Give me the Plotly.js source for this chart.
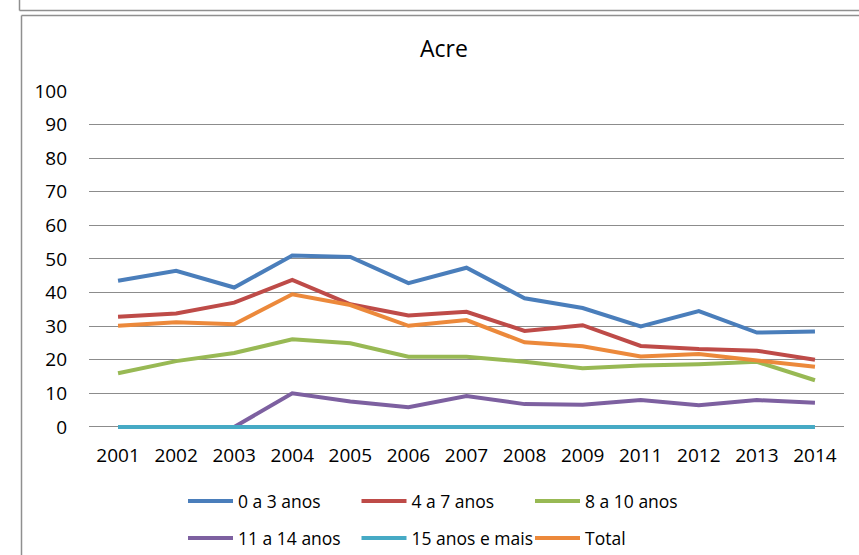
<!DOCTYPE html>
<html>
<head>
<meta charset="utf-8">
<script src="https://cdn.plot.ly/plotly-3.0.1.min.js"></script>
<style>
html,body{margin:0;padding:0;background:#fff;}
#chart{width:859px;height:555px;}
</style>
</head>
<body>
<div id="chart"></div>
<script>
var years = ["2001","2002","2003","2004","2005","2006","2007","2008","2009","2011","2012","2013","2014"];
var yTicks = [0,10,20,30,40,50,60,70,80,90,100];
var seriesNames = ["0 a 3 anos","4 a 7 anos","8 a 10 anos","11 a 14 anos","15 anos e mais","Total"];
var s0a3 =   [43.5,46.5,41.5,51.0,50.6,42.8,47.4,38.3,35.4,29.9,34.5,28.1,28.4];
var s4a7 =   [32.8,33.8,37.0,43.8,36.5,33.2,34.3,28.6,30.3,24.1,23.2,22.7,20.0];
var s8a10 =  [16.0,19.6,22.0,26.1,24.9,20.9,20.9,19.4,17.5,18.3,18.7,19.4,13.9];
var s11a14 = [0,0,0,10.0,7.6,5.9,9.2,6.8,6.6,8.0,6.5,8.0,7.2];
var s15 =    [0,0,0,0,0,0,0,0,0,0,0,0,0];
var sTotal = [30.1,31.2,30.6,39.5,36.3,30.1,31.8,25.2,24.0,21.0,21.7,19.9,17.9];

var seriesValues = [s0a3,s4a7,s8a10,s11a14,s15,sTotal];
var colors = ["#4A7EBB","#BE4B48","#98B954","#7D60A0","#46AAC5","#EC893B"];
var legendOf = ["legend","legend","legend","legend2","legend2","legend2"];

var traces = seriesNames.map(function(n,i){
  return {
    x: years, y: seriesValues[i], name: n, type: "scatter", mode: "lines",
    line: {color: colors[i], width: 4},
    legend: legendOf[i]
  };
});

// plot area: x 89..844; y value 100 at 91px, value 0 at 427px (3.36 px/unit)
var L=89, R=844, T=91, ZERO=427, YMIN=-1.5;
var B = ZERO + (-YMIN)*(ZERO-T)/100;
function px(x){return (x-L)/(R-L);}
function py(y){return (B-y)/(B-T);}
var frameColor = "#8f8f8f";
var FONT = "'Open Sans', sans-serif";

var legendCommon = {
  orientation: "h", xref: "container", yref: "container",
  xanchor: "left", yanchor: "middle",
  font: {family: FONT, size: 17.5, color: "#000"},
  bgcolor: "rgba(0,0,0,0)", itemwidth: 45,
  entrywidth: 113.5, entrywidthmode: "pixels",
  tracegroupgap: 0, traceorder: "normal"
};

var layout = {
  width: 859, height: 555,
  margin: {l: L, r: 859-R, t: T, b: 555-B},
  paper_bgcolor: "#fff", plot_bgcolor: "#fff",
  font: {family: FONT, size: 19, color: "#000"},
  title: {text: "Acre", x: 444/859, xanchor: "center", xref: "container",
          y: 1-49/555, yanchor: "middle", yref: "container",
          font: {family: FONT, size: 23, color: "#000"}},
  xaxis: {type: "category", range: [-0.5, 12.5], showgrid: false, zeroline: false,
          showline: false, ticks: "", ticklabelstandoff: 10, fixedrange: true},
  yaxis: {range: [YMIN, 100], tickvals: yTicks, showgrid: true, gridcolor: "#8c8c8c",
          gridwidth: 1, zeroline: false, showline: false, ticks: "",
          ticklabelstandoff: 21, fixedrange: true},
  showlegend: true,
  legend: Object.assign({}, legendCommon, {x: 183/859, y: 1-501/555}),
  legend2: Object.assign({}, legendCommon, {x: 183/859, y: 1-538/555}),
  shapes: [
    {type: "line", xref: "paper", yref: "paper", x0: px(19.5), x1: px(870), y0: py(10.5), y1: py(10.5), line: {color: frameColor, width: 1.5}},
    {type: "line", xref: "paper", yref: "paper", x0: px(19.5), x1: px(19.5), y0: py(-5), y1: py(10.5), line: {color: frameColor, width: 1.5}},
    {type: "line", xref: "paper", yref: "paper", x0: px(21.5), x1: px(870), y0: py(15.5), y1: py(15.5), line: {color: frameColor, width: 1.5}},
    {type: "line", xref: "paper", yref: "paper", x0: px(21.5), x1: px(21.5), y0: py(15.5), y1: py(570), line: {color: frameColor, width: 1.5}}
  ]
};

Plotly.newPlot("chart", traces, layout, {staticPlot: true, displayModeBar: false});
</script>
</body>
</html>
